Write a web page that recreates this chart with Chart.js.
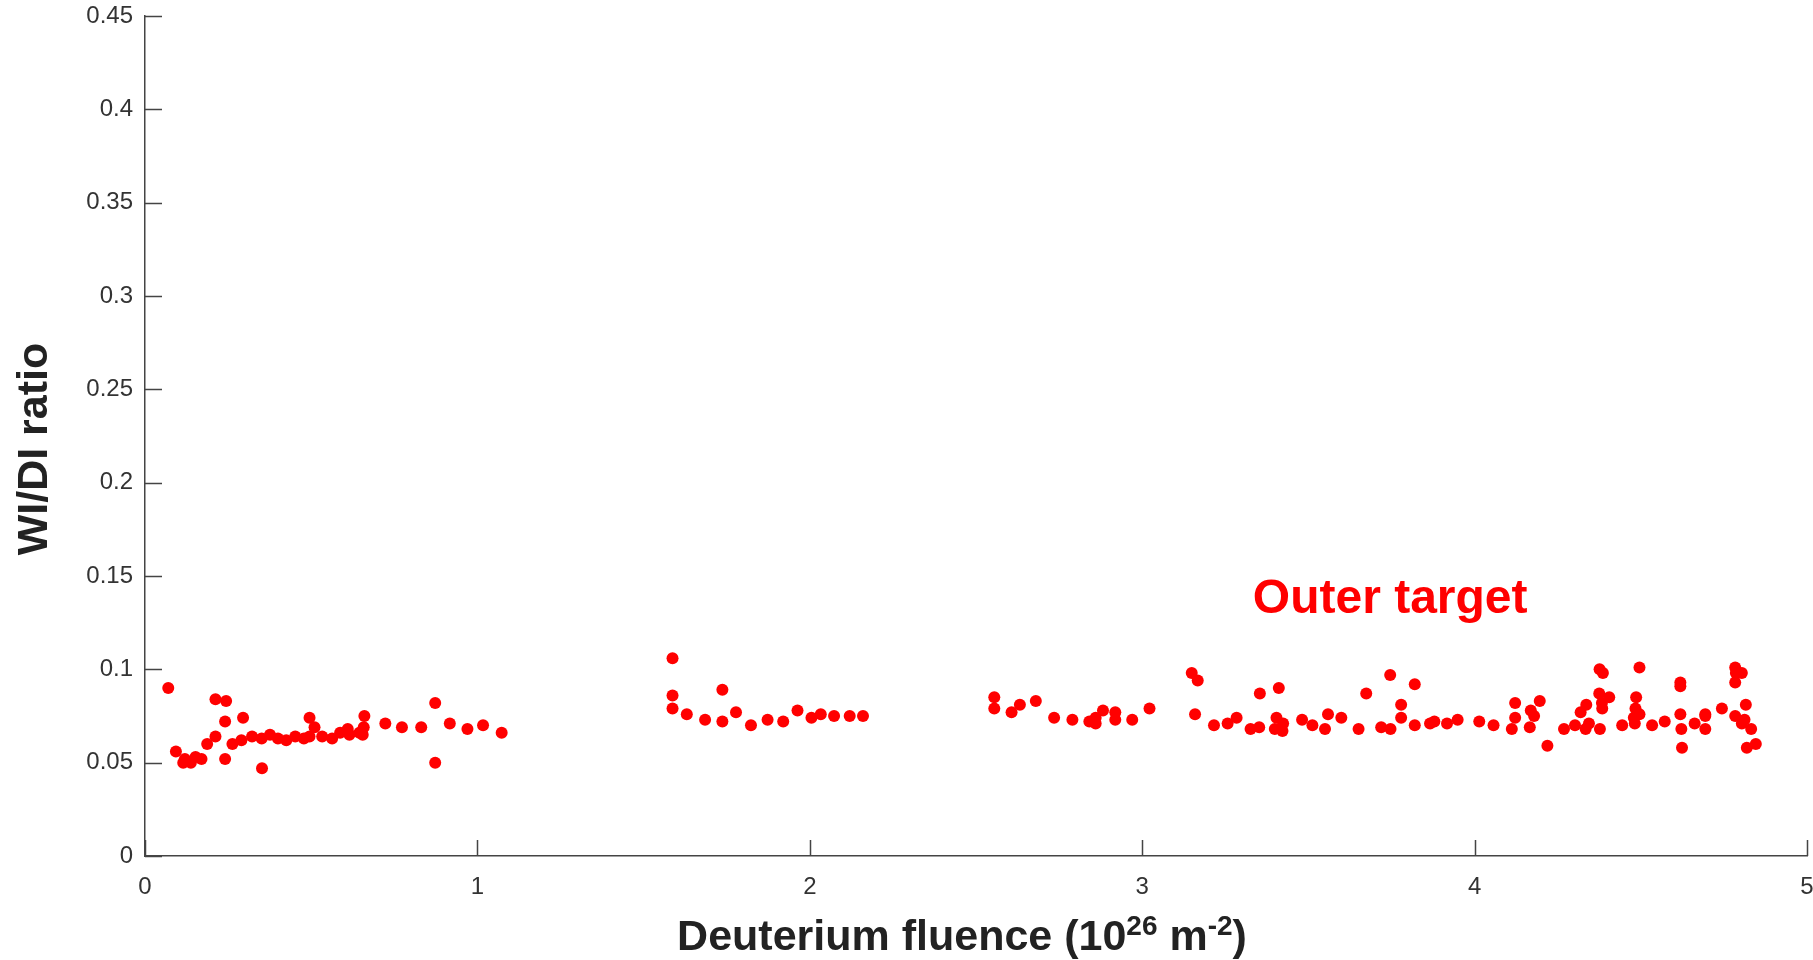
<!DOCTYPE html>
<html>
<head>
<meta charset="utf-8">
<script src="https://cdn.jsdelivr.net/npm/chart.js@4.4.1/dist/chart.umd.min.js"></script>
<style>
  html, body { margin: 0; padding: 0; background: #ffffff; }
  #chart { display: block; }
</style>
</head>
<body>
<canvas id="chart" width="1813" height="960"></canvas>
<script>
// Deuterium fluence (10^26 m^-2) and WI/DI ratio
const fluence = [
  0.07, 0.093, 0.115, 0.12, 0.138, 0.152, 0.17, 0.187, 0.212, 0.212,
  0.244, 0.241, 0.241, 0.263, 0.29, 0.295, 0.322, 0.351, 0.352, 0.376,
  0.40, 0.425, 0.452, 0.478, 0.495, 0.495, 0.51, 0.533, 0.563, 0.587,
  0.61, 0.615, 0.645, 0.655, 0.658, 0.66, 0.723, 0.773, 0.831, 0.873,
  0.873, 0.917, 0.97, 1.017, 1.073,
  1.587, 1.587, 1.587, 1.63, 1.685, 1.737, 1.737, 1.778, 1.823, 1.873,
  1.92, 1.963, 2.005, 2.033, 2.073, 2.12, 2.16,
  2.555, 2.555, 2.607, 2.632, 2.68, 2.735, 2.79, 2.841, 2.86, 2.86,
  2.882, 2.919, 2.919, 2.97, 3.022, 3.149, 3.167, 3.159, 3.216, 3.257,
  3.284, 3.326, 3.352, 3.354, 3.411, 3.404, 3.399, 3.424, 3.422, 3.481,
  3.512, 3.55, 3.559, 3.599, 3.651, 3.674, 3.719, 3.747, 3.746, 3.779,
  3.779, 3.82, 3.82, 3.866, 3.879, 3.917, 3.949, 4.014, 4.057, 4.112,
  4.122, 4.122, 4.166, 4.169, 4.179, 4.196, 4.219, 4.269, 4.302, 4.319,
  4.336, 4.344, 4.334, 4.377, 4.376, 4.386, 4.375, 4.383, 4.384, 4.405,
  4.444, 4.482, 4.479, 4.486, 4.484, 4.496, 4.496, 4.534, 4.572, 4.619,
  4.619, 4.619, 4.622, 4.624, 4.662, 4.694, 4.694, 4.694, 4.744, 4.784,
  4.786, 4.804, 4.784, 4.816, 4.784, 4.812, 4.804, 4.832, 4.819, 4.846
];
const ratio = [
  0.090, 0.056, 0.050, 0.052, 0.050, 0.053, 0.052, 0.060, 0.064, 0.084,
  0.083, 0.072, 0.052, 0.060, 0.062, 0.074, 0.064, 0.063, 0.047, 0.065,
  0.063, 0.062, 0.064, 0.063, 0.064, 0.074, 0.069, 0.064, 0.063, 0.066,
  0.068, 0.065, 0.066, 0.065, 0.069, 0.075, 0.071, 0.069, 0.069, 0.082,
  0.050, 0.071, 0.068, 0.070, 0.066,
  0.106, 0.086, 0.079, 0.076, 0.073, 0.089, 0.072, 0.077, 0.070, 0.073,
  0.072, 0.078, 0.074, 0.076, 0.075, 0.075, 0.075,
  0.085, 0.079, 0.077, 0.081, 0.083, 0.074, 0.073, 0.072, 0.074, 0.071,
  0.078, 0.077, 0.073, 0.073, 0.079, 0.098, 0.094, 0.076, 0.070, 0.071,
  0.074, 0.068, 0.069, 0.087, 0.090, 0.074, 0.068, 0.071, 0.067, 0.073,
  0.070, 0.068, 0.076, 0.074, 0.068, 0.087, 0.069, 0.068, 0.097, 0.081,
  0.074, 0.092, 0.070, 0.071, 0.072, 0.071, 0.073, 0.072, 0.070, 0.068,
  0.082, 0.074, 0.069, 0.078, 0.075, 0.083, 0.059, 0.068, 0.070, 0.077,
  0.081, 0.071, 0.068, 0.068, 0.100, 0.098, 0.087, 0.082, 0.079, 0.085,
  0.070, 0.071, 0.074, 0.085, 0.079, 0.076, 0.101, 0.070, 0.072, 0.093,
  0.091, 0.076, 0.068, 0.058, 0.071, 0.076, 0.075, 0.068, 0.079, 0.101,
  0.098, 0.098, 0.093, 0.081, 0.075, 0.073, 0.071, 0.068, 0.058, 0.060
];

const yTicks = [0, 0.05, 0.1, 0.15, 0.2, 0.25, 0.3, 0.35, 0.4, 0.45];
const yTickLabels = ['0', '0.05', '0.1', '0.15', '0.2', '0.25', '0.3', '0.35', '0.4', '0.45'];
const xTicks = [0, 1, 2, 3, 4, 5];

const label = { text: 'Outer target', x: 3.746, y: 0.130 };
const yTitle = 'WI/DI ratio';
// x title pieces: [text, superscript?]
const xTitleParts = [['Deuterium fluence (10', false], ['26', true], [' m', false], ['-2', true], [')', false]];

const FONT = '"Liberation Sans", Arial, Helvetica, sans-serif';
const AXIS = '#444444';
const TEXT = '#333333';
const TITLE = '#222222';

// MATLAB-style ticks pointing into the plot area
const innerTicks = {
  id: 'innerTicks',
  afterDraw(chart) {
    const { ctx, chartArea, scales } = chart;
    ctx.save();
    ctx.strokeStyle = AXIS;
    ctx.lineWidth = 1.5;
    ctx.beginPath();
    yTicks.forEach(v => {
      const py = Math.round(scales.y.getPixelForValue(v)) + 0.5;
      ctx.moveTo(chartArea.left, py);
      ctx.lineTo(chartArea.left + 17, py);
    });
    xTicks.forEach(v => {
      const px = Math.round(scales.x.getPixelForValue(v)) + 0.5;
      ctx.moveTo(px, chartArea.bottom);
      ctx.lineTo(px, chartArea.bottom - 16);
    });
    ctx.stroke();
    ctx.restore();
  }
};

// text labels: annotation and axis titles (x title needs superscripts)
const textLabels = {
  id: 'textLabels',
  afterDraw(chart) {
    const { ctx, scales } = chart;
    ctx.save();
    ctx.font = 'bold 48px ' + FONT;
    ctx.fillStyle = '#ff0000';
    ctx.textAlign = 'center';
    ctx.textBaseline = 'alphabetic';
    ctx.fillText(label.text, scales.x.getPixelForValue(label.x), scales.y.getPixelForValue(label.y));

    // y title
    ctx.fillStyle = TITLE;
    ctx.font = 'bold 43px ' + FONT;
    ctx.save();
    ctx.translate(47, 449);
    ctx.rotate(-Math.PI / 2);
    ctx.fillText(yTitle, 0, 0);
    ctx.restore();

    // x title
    const big = 'bold 43px ' + FONT;
    const small = 'bold 28px ' + FONT;
    ctx.textAlign = 'left';
    let total = 0;
    xTitleParts.forEach(([t, sup]) => {
      ctx.font = sup ? small : big;
      total += ctx.measureText(t).width;
    });
    let x = 962 - total / 2;
    const base = 950;
    xTitleParts.forEach(([t, sup]) => {
      ctx.font = sup ? small : big;
      ctx.fillText(t, x, sup ? base - 15 : base);
      x += ctx.measureText(t).width;
    });
    ctx.restore();
  }
};

const points = fluence.map((x, i) => ({ x, y: ratio[i] }));

new Chart(document.getElementById('chart'), {
  type: 'scatter',
  data: {
    datasets: [{
      data: points,
      backgroundColor: '#ff0000',
      borderWidth: 0,
      pointRadius: 6,
      pointHoverRadius: 6
    }]
  },
  options: {
    responsive: false,
    animation: false,
    layout: { padding: { top: 16, right: 5, left: 0, bottom: 0 } },
    plugins: {
      legend: { display: false },
      tooltip: { enabled: false }
    },
    scales: {
      x: {
        type: 'linear',
        min: 0,
        max: 5,
        afterBuildTicks: scale => { scale.ticks = xTicks.map(v => ({ value: v })); },
        afterFit: scale => {
          scale.height = 104;
          scale.paddingLeft = 0;
          scale.paddingRight = 0;
        },
        grid: { display: false, drawTicks: false },
        border: { display: true, color: AXIS, width: 1.5 },
        ticks: {
          padding: 17,
          color: TEXT,
          font: { family: FONT, size: 24 },
          maxRotation: 0,
          callback: v => String(v)
        },
        title: { display: false }
      },
      y: {
        type: 'linear',
        min: 0,
        max: 0.45,
        afterBuildTicks: scale => { scale.ticks = yTicks.map(v => ({ value: v })); },
        afterFit: scale => {
          scale.width = 145;
          scale.paddingTop = 0;
          scale.paddingBottom = 0;
        },
        grid: { display: false, drawTicks: false },
        border: { display: true, color: AXIS, width: 1.5 },
        ticks: {
          padding: 12,
          color: TEXT,
          font: { family: FONT, size: 24 },
          callback: (v, i) => yTickLabels[i]
        },
        title: { display: false }
      }
    }
  },
  plugins: [innerTicks, textLabels]
});
</script>
</body>
</html>
